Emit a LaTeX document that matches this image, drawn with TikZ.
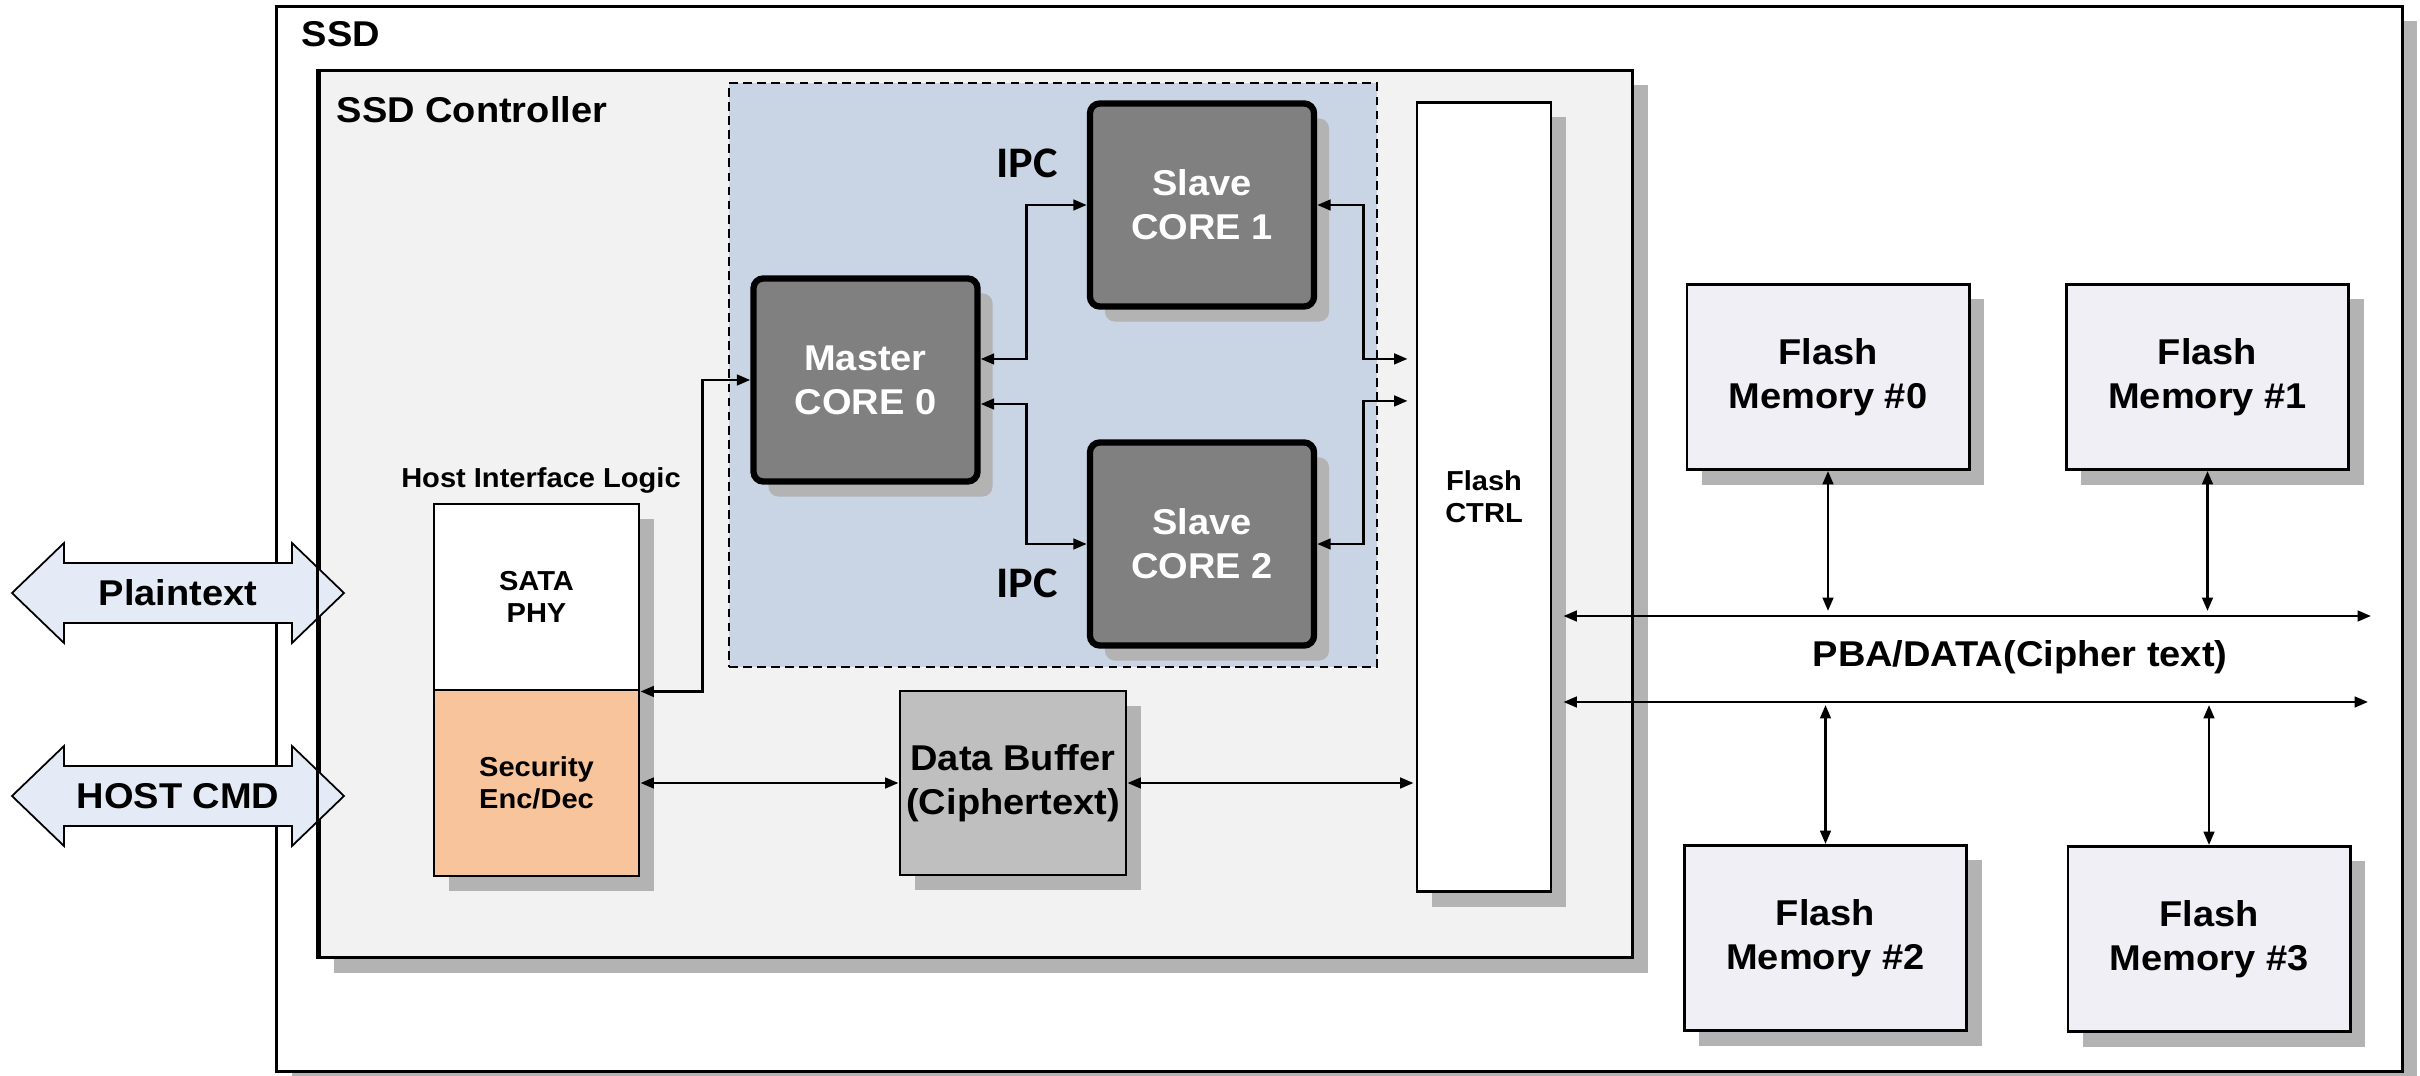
\documentclass[tikz,border=0pt]{standalone}
\usepackage{fontspec}
\setmainfont{Liberation Sans}[FakeStretch=1.06]
\newfontfamily\ipcfont{Carlito}[FakeStretch=1.06]
\usepackage{xcolor}
\usetikzlibrary{arrows.meta,positioning,shadows,calc}

\definecolor{ctrlgray}{RGB}{242,242,242}
\definecolor{cpublue}{RGB}{201,213,228}
\definecolor{coregray}{RGB}{128,128,128}
\definecolor{shadowgray}{RGB}{179,179,179}
\definecolor{secorange}{RGB}{248,196,155}
\definecolor{bufgray}{RGB}{191,191,191}
\definecolor{memlav}{RGB}{240,239,245}
\definecolor{hostblue}{RGB}{228,235,246}

\begin{document}
\begin{tikzpicture}[
  x=0.01cm, y=-0.01cm,
  >={Triangle[length=3.8pt,width=3pt]},
  bigfont/.style={font=\fontsize{10.2}{12.5}\selectfont\bfseries},
  smallfont/.style={font=\fontsize{7.8}{9.1}\selectfont\bfseries},
  boxshadow/.style={drop shadow={shadow xshift=0.15cm, shadow yshift=-0.15cm,
    opacity=1, fill=shadowgray}},
  block/.style={draw=black, line width=0.8pt, boxshadow, inner sep=0pt, align=center},
  core/.style={block, fill=coregray, line width=1.8pt, rounded corners=0.1cm,
    text=white, bigfont, minimum width=2.24cm, minimum height=2.03cm},
  mem/.style={block, fill=memlav, bigfont, minimum width=2.82cm, minimum height=1.85cm},
  link/.style={<->, line width=0.75pt},
]
  \useasboundingbox (0,0) rectangle (2420,1076);

  % SSD enclosure and controller
  \node[block, fill=white, minimum width=21.24cm, minimum height=10.65cm]
    (ssd) at (1339.5,539) {};
  \node[bigfont, anchor=base west, inner sep=0pt] (ssdlbl) at (301,46.5) {SSD};
  \node[block, fill=ctrlgray, minimum width=13.13cm, minimum height=8.87cm]
    (ctrl) at (976,514) {};
  \node[bigfont, anchor=base west, inner sep=0pt] (ctrllbl) at (336,123)
    {SSD Controller};

  % Multi-core region
  \node[draw, line width=0.5pt, dash pattern=on 2.5pt off 1.5pt, fill=cpublue,
    minimum width=6.48cm, minimum height=5.83cm] (cpu) at (1053,375) {};
  \node[core] (master) at (865.5,380) {Master\\CORE 0};
  \node[core] (slave1) at (1202,205) {Slave\\CORE 1};
  \node[core] (slave2) at (1202,544) {Slave\\CORE 2};
  \node[font=\ipcfont\bfseries\fontsize{12.4}{14}\selectfont] (ipc1) at (1027,163) {IPC};
  \node[font=\ipcfont\bfseries\fontsize{12.4}{14}\selectfont] (ipc2) at (1027,583) {IPC};

  % Flash controller
  \node[block, fill=white, smallfont, minimum width=1.34cm, minimum height=7.89cm]
    (fctrl) at (1484,497) {Flash\\CTRL};

  % Host interface logic
  \node[block, fill=white, smallfont, minimum width=2.05cm, minimum height=1.86cm]
    (sata) at (536.5,597) {SATA\\PHY};
  \node[block, fill=secorange, smallfont, minimum width=2.05cm, minimum height=1.86cm]
    (sec) at (536.5,783) {Security\\Enc/Dec};
  \node[smallfont] (hil) at (541,480) {Host Interface Logic};

  % Data buffer
  \node[block, fill=bufgray, bigfont, minimum width=2.26cm, minimum height=1.84cm]
    (dbuf) at (1013,783) {Data Buffer\\(Ciphertext)};

  % Flash memories
  \foreach \i/\mx/\my in {0/1828/377, 1/2207.5/377, 2/1825.5/938, 3/2209/939}
    \node[mem] (mem\i) at (\mx,\my) {Flash\\Memory \#\i};

  % Connectors inside the controller
  \draw[link] (sata.south east) -- ++(62,0) |- (master.west);
  \draw[link] ([yshift=0.21cm]master.east) -- ++(46,0) |- (slave1.west);
  \draw[link] ([yshift=-0.24cm]master.east) -- ++(46,0) |- (slave2.west);
  \draw[link, shorten >=0.08cm] (slave1.east) -- ++(46,0) |- ([yshift=1.38cm]fctrl.west);
  \draw[link, shorten >=0.08cm] (slave2.east) -- ++(46,0) |- ([yshift=0.96cm]fctrl.west);
  \draw[link] (sec.east) -- (dbuf.west);
  \draw[link, shorten >=0.02cm] (dbuf.east) -- (dbuf.east -| fctrl.west);

  % Flash bus
  \coordinate (busA) at (2371,616);
  \coordinate (busB) at (2368,702);
  \draw[link, shorten <=0.11cm] (fctrl.east |- busA) -- (busA);
  \draw[link, shorten <=0.11cm] (fctrl.east |- busB) -- (busB);
  \node[bigfont] (buslbl) at (2020,657) {PBA/DATA(Cipher text)};
  \foreach \i in {0,1}
    \draw[link, shorten >=0.05cm] (mem\i.south) -- (mem\i.south |- busA);
  \foreach \i in {2,3}
    \draw[link, shorten >=0.03cm] (mem\i.north) -- (mem\i.north |- busB);

  % Host side arrows
  \foreach \ay/\atext [count=\k] in {593/Plaintext, 796/HOST CMD} {
    \draw[fill=hostblue, line width=0.5pt] (12,\ay) -- (64,\ay-50) -- (64,\ay-30)
      -- (292,\ay-30) -- (292,\ay-50) -- (344,\ay) -- (292,\ay+50)
      -- (292,\ay+30) -- (64,\ay+30) -- (64,\ay+50) -- cycle;
    \node[bigfont] (host\k) at (178,\ay) {\atext};
  }
  \draw[line width=0.8pt] (ctrl.north west) -- (ctrl.south west);
\end{tikzpicture}
\end{document}
